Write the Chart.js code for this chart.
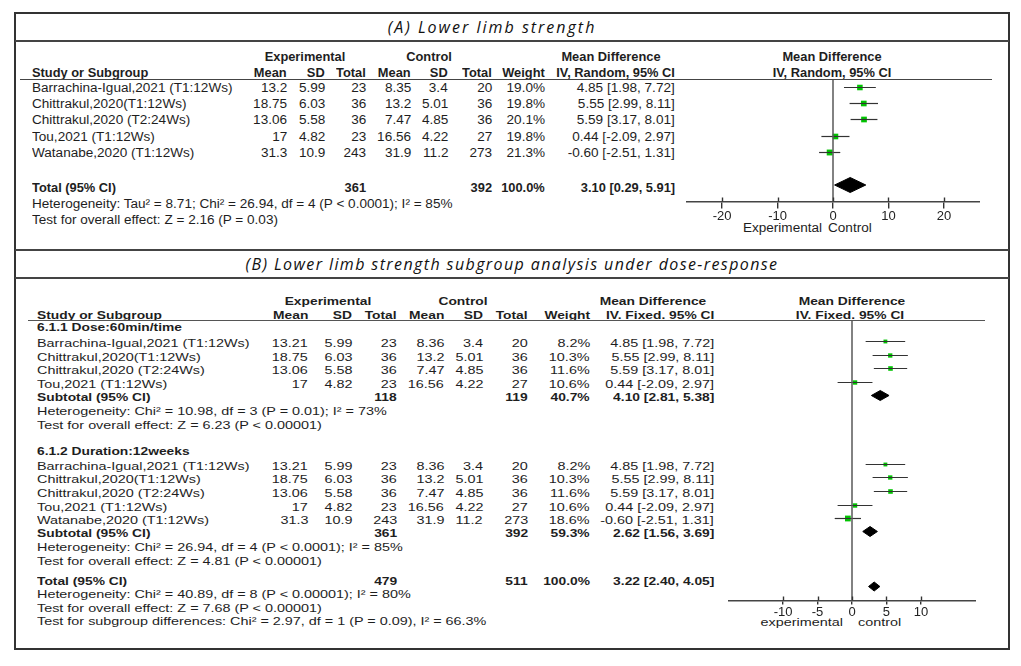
<!DOCTYPE html>
<html><head><meta charset="utf-8">
<script src="https://cdn.jsdelivr.net/npm/chart.js@4.4.1/dist/chart.umd.min.js"></script>
<style>
html,body{margin:0;padding:0;background:#fff;}
#root{position:relative;width:1021px;height:666px;overflow:hidden;background:#fff;font-family:"Liberation Sans",Arial,sans-serif;color:#1e1e1e;}
.t{position:absolute;white-space:nowrap;line-height:1;}
.hl{position:absolute;background:#444;}
</style></head><body><div id="root"></div>
<script>
// ---------- DATA: panel A (random effects) ----------
const studyNames = ["Barrachina-Igual,2021 (T1:12Ws)","Chittrakul,2020(T1:12Ws)","Chittrakul,2020 (T2:24Ws)","Tou,2021 (T1:12Ws)","Watanabe,2020 (T1:12Ws)"];
const expMeanA = [13.2, 18.75, 13.06, 17, 31.3];
const expSdA   = [5.99, 6.03, 5.58, 4.82, 10.9];
const expNA    = [23, 36, 36, 23, 243];
const ctlMeanA = [8.35, 13.2, 7.47, 16.56, 31.9];
const ctlSdA   = [3.4, 5.01, 4.85, 4.22, 11.2];
const ctlNA    = [20, 36, 36, 27, 273];
const weightA  = [19.0, 19.8, 20.1, 19.8, 21.3];
const mdA      = [4.85, 5.55, 5.59, 0.44, -0.60];
const loA      = [1.98, 2.99, 3.17, -2.09, -2.51];
const hiA      = [7.72, 8.11, 8.01, 2.97, 1.31];
const totalA   = [361, 392, 100.0, 3.10, 0.29, 5.91];
const ticksA   = [-20, -10, 0, 10, 20];

// ---------- DATA: panel B (fixed effects, subgroups) ----------
const expMeanB = [13.21, 18.75, 13.06, 17, 31.3];
const expSdB   = [5.99, 6.03, 5.58, 4.82, 10.9];
const expNB    = [23, 36, 36, 23, 243];
const ctlMeanB = [8.36, 13.2, 7.47, 16.56, 31.9];
const ctlSdB   = [3.4, 5.01, 4.85, 4.22, 11.2];
const ctlNB    = [20, 36, 36, 27, 273];
const weightB  = [8.2, 10.3, 11.6, 10.6, 18.6];
const mdB      = [4.85, 5.55, 5.59, 0.44, -0.60];
const loB      = [1.98, 2.99, 3.17, -2.09, -2.51];
const hiB      = [7.72, 8.11, 8.01, 2.97, 1.31];
const group1Idx = [0, 1, 2, 3];
const group2Idx = [0, 1, 2, 3, 4];
const subtotal1 = [118, 119, 40.7, 4.10, 2.81, 5.38];
const subtotal2 = [361, 392, 59.3, 2.62, 1.56, 3.69];
const totalB    = [479, 511, 100.0, 3.22, 2.40, 4.05];
const ticksB    = [-10, -5, 0, 5, 10];

// ---------- helpers ----------
const root = document.getElementById('root');
function T(x, y, s, o = {}) {
  const d = document.createElement('div');
  d.className = 't';
  d.textContent = s;
  const fs = o.fs || 12, sx = o.sx || 1, al = o.al || 'l';
  d.style.fontSize = fs + 'px';
  if (o.b) d.style.fontWeight = 'bold';
  if (o.i) d.style.fontStyle = 'italic';
  if (o.ff) d.style.fontFamily = o.ff;
  if (o.ls) d.style.letterSpacing = o.ls + 'px';
  if (o.c) d.style.color = o.c;
  d.style.top = (y - fs * 0.5) + 'px';
  if (al === 'l') { d.style.left = x + 'px'; d.style.transformOrigin = 'left center'; d.style.transform = `scaleX(${sx})`; }
  else if (al === 'r') { d.style.right = (1021 - x) + 'px'; d.style.transformOrigin = 'right center'; d.style.transform = `scaleX(${sx})`; }
  else { d.style.left = x + 'px'; d.style.transformOrigin = 'center center'; d.style.transform = `translateX(-50%) scaleX(${sx})`; }
  root.appendChild(d);
}
function H(x1, x2, y, w = 1.5, c = '#444') {
  const d = document.createElement('div'); d.className = 'hl';
  d.style.cssText += `left:${x1}px;top:${y - w / 2}px;width:${x2 - x1}px;height:${w}px;background:${c}`;
  root.appendChild(d);
}
function V(x, y1, y2, w = 2, c = '#333') {
  const d = document.createElement('div'); d.className = 'hl';
  d.style.cssText += `left:${x - w / 2}px;top:${y1}px;width:${w}px;height:${y2 - y1}px;background:${c}`;
  root.appendChild(d);
}
const f2 = v => v.toFixed(2);
const wt = v => v.toFixed(1) + '%';
const ci = (m, l, h) => `${f2(m)} [${f2(l)}, ${f2(h)}]`;

function forest(o) {
  const box = document.createElement('div');
  box.style.cssText = `position:absolute;left:${o.left}px;top:${o.top}px;width:${o.w}px;height:${o.plotH + o.axisH}px;`;
  root.appendChild(box);
  const cv = document.createElement('canvas');
  box.appendChild(cv);
  const ds = [];
  ds.push({ type: 'line', data: [{ x: 0, y: 0 }, { x: 0, y: o.plotH }], borderColor: '#5a5a5a', borderWidth: 1.5, pointRadius: 0, clip: false });
  o.rows.forEach(r => {
    ds.push({ type: 'line', data: [{ x: o.lo[r.i], y: r.y }, { x: o.hi[r.i], y: r.y }], borderColor: '#333', borderWidth: 1.2, pointRadius: 0, clip: false });
  });
  ds.push({ type: 'scatter', data: o.rows.map(r => ({ x: o.md[r.i], y: r.y })), pointStyle: 'rect',
    pointRadius: o.rows.map(r => o.k * Math.sqrt(o.wt[r.i])), backgroundColor: '#00c400', borderWidth: 0, clip: false });
  o.diamonds.forEach(d => {
    ds.push({ type: 'line', data: [{ x: d.v[4], y: d.y }, { x: d.v[3], y: d.y - d.h }, { x: d.v[5], y: d.y }, { x: d.v[3], y: d.y + d.h }, { x: d.v[4], y: d.y }],
      borderColor: '#000', backgroundColor: '#000', borderWidth: 1, fill: 'shape', pointRadius: 0, clip: false });
  });
  new Chart(cv, {
    type: 'scatter',
    data: { datasets: ds },
    options: {
      responsive: true, maintainAspectRatio: false, animation: false,
      layout: { padding: 0, autoPadding: false },
      plugins: { legend: { display: false }, tooltip: { enabled: false } },
      scales: {
        x: {
          type: 'linear', min: o.min, max: o.max,
          afterBuildTicks: s => { s.ticks = o.ticks.map(v => ({ value: v })); },
          afterFit: s => { s.height = o.axisH; },
          grid: { display: true, drawOnChartArea: false, drawTicks: true, tickLength: o.tl, color: '#333', lineWidth: 1.4 },
          border: { display: true, color: '#444', width: 1.5 },
          ticks: { font: { family: 'Liberation Sans', size: o.fs }, color: '#222', padding: o.pad, maxRotation: 0, autoSkip: false, callback: v => String(v) }
        },
        y: { type: 'linear', display: false, min: 0, max: o.plotH, reverse: true }
      }
    },
    plugins: [{
      id: 'tickUp',
      afterDraw(c) {
        const s = c.scales.x, ctx = c.ctx, b = c.chartArea.bottom;
        ctx.save(); ctx.strokeStyle = '#333'; ctx.lineWidth = 1.4;
        o.ticks.forEach(v => { const px = Math.round(s.getPixelForValue(v)) + 0.5; ctx.beginPath(); ctx.moveTo(px, b - o.up); ctx.lineTo(px, b); ctx.stroke(); });
        ctx.restore();
      }
    }]
  });
}

// ---------- frame ----------
const LEFT = 15, RIGHT = 1009;
H(LEFT, RIGHT, 13, 2, '#333');
H(LEFT, RIGHT, 649, 2.5, '#333');
V(LEFT, 12, 650, 2, '#333');
V(RIGHT, 12, 650, 2.5, '#333');
H(LEFT, RIGHT, 41, 1.5, '#444');
H(LEFT, RIGHT, 250, 1.5, '#444');
H(LEFT, RIGHT, 278, 1.5, '#444');

// ---------- panel A ----------
const FA = { fs: 12, sx: 1.13 };
const FAB = { fs: 12, sx: 1.07, b: true };
T(492, 27, '(A)  Lower limb strength', { fs: 16, i: true, ff: '"Open Sans"', ls: 2.0, al: 'c', c: '#111' });
T(305, 57, 'Experimental', { ...FAB, al: 'c' });
T(429, 57, 'Control', { ...FAB, al: 'c' });
T(611, 57, 'Mean Difference', { ...FAB, al: 'c' });
T(832, 57, 'Mean Difference', { ...FAB, al: 'c' });
const colA = [287, 325, 366, 411, 448, 492, 545, 675];
T(32, 73, 'Study or Subgroup', FAB);
['Mean', 'SD', 'Total', 'Mean', 'SD', 'Total', 'Weight', 'IV, Random, 95% CI'].forEach((h, j) => T(colA[j], 73, h, { ...FAB, al: 'r' }));
T(832, 73, 'IV, Random, 95% CI', { ...FAB, al: 'c' });
H(20, 992, 79.5, 1.5, '#444');
const rowYA = [87, 103, 119, 136, 152];
studyNames.forEach((n, i) => {
  const y = rowYA[i] + 0.5;
  T(32, y, n, FA);
  [String(expMeanA[i]), String(expSdA[i]), String(expNA[i]), String(ctlMeanA[i]), String(ctlSdA[i]), String(ctlNA[i]), wt(weightA[i]), ci(mdA[i], loA[i], hiA[i])]
    .forEach((s, j) => T(colA[j], y, s, { ...FA, al: 'r' }));
});
const totYA = 187.5;
T(32, totYA, 'Total (95% CI)', FAB);
T(colA[2], totYA, String(totalA[0]), { ...FAB, al: 'r' });
T(colA[5], totYA, String(totalA[1]), { ...FAB, al: 'r' });
T(colA[6], totYA, wt(totalA[2]), { ...FAB, al: 'r' });
T(colA[7], totYA, ci(totalA[3], totalA[4], totalA[5]), { ...FAB, al: 'r' });
T(32, 204, 'Heterogeneity: Tau\u00B2 = 8.71; Chi\u00B2 = 26.94, df = 4 (P < 0.0001); I\u00B2 = 85%', FA);
T(32, 220, 'Test for overall effect: Z = 2.16 (P = 0.03)', FA);
T(822, 228, 'Experimental', { ...FA, al: 'r' });
T(828, 228, 'Control', { ...FA, al: 'l' });

forest({
  left: 686, top: 79.5, w: 294, plotH: 121.5, axisH: 28, min: -26.5, max: 26.5, ticks: ticksA,
  tl: 7, up: 4, pad: 0, fs: 13, k: 0.9,
  lo: loA, hi: hiA, md: mdA, wt: weightA,
  rows: rowYA.map((y, i) => ({ i, y: y - 79.5 })),
  diamonds: [{ v: totalA, y: 184.5 - 79.5, h: 7.5 }]
});

// ---------- panel B ----------
const FB = { fs: 11.5, sx: 1.25 };
const FBB = { fs: 11.5, sx: 1.2, b: true };
T(512, 264, '(B)  Lower limb strength subgroup analysis under dose-response', { fs: 16, i: true, ff: '"Open Sans"', ls: 1.4, al: 'c', c: '#111' });
T(328, 302, 'Experimental', { ...FBB, al: 'c' });
T(463, 302, 'Control', { ...FBB, al: 'c' });
T(653, 302, 'Mean Difference', { ...FBB, al: 'c' });
T(852, 302, 'Mean Difference', { ...FBB, al: 'c' });
const colB = [308, 352, 397, 444, 483, 528, 590, 714];
T(37, 316, 'Study or Subgroup', FBB);
['Mean', 'SD', 'Total', 'Mean', 'SD', 'Total', 'Weight', 'IV. Fixed. 95% CI'].forEach((h, j) => T(colB[j], 316, h, { ...FBB, al: 'r' }));
T(850, 316, 'IV. Fixed. 95% CI', { ...FBB, al: 'c' });
H(28, 985, 320.5, 1.5, '#555');

function studyRowB(i, y) {
  T(37, y, studyNames[i], FB);
  [String(expMeanB[i]), String(expSdB[i]), String(expNB[i]), String(ctlMeanB[i]), String(ctlSdB[i]), String(ctlNB[i]), wt(weightB[i]), ci(mdB[i], loB[i], hiB[i])]
    .forEach((s, j) => T(colB[j], y, s, { ...FB, al: 'r' }));
}
function sumRowB(label, v, y) {
  T(37, y, label, FBB);
  T(colB[2], y, String(v[0]), { ...FBB, al: 'r' });
  T(colB[5], y, String(v[1]), { ...FBB, al: 'r' });
  T(colB[6], y, wt(v[2]), { ...FBB, al: 'r' });
  T(colB[7], y, ci(v[3], v[4], v[5]), { ...FBB, al: 'r' });
}
const rowYB1 = [341, 355, 368, 382];
const rowYB2 = [464, 477, 491, 505, 518];
const dTXT = 2.5;
T(37, 328, '6.1.1 Dose:60min/time', FBB);
group1Idx.forEach((i, k) => studyRowB(i, rowYB1[k] + dTXT));
sumRowB('Subtotal (95% CI)', subtotal1, 397.5);
T(37, 412, 'Heterogeneity: Chi\u00B2 = 10.98, df = 3 (P = 0.01); I\u00B2 = 73%', FB);
T(37, 426, 'Test for overall effect: Z = 6.23 (P < 0.00001)', FB);
T(37, 452, '6.1.2 Duration:12weeks', FBB);
group2Idx.forEach((i, k) => studyRowB(i, rowYB2[k] + dTXT));
sumRowB('Subtotal (95% CI)', subtotal2, 534);
T(37, 548, 'Heterogeneity: Chi\u00B2 = 26.94, df = 4 (P < 0.0001); I\u00B2 = 85%', FB);
T(37, 562, 'Test for overall effect: Z = 4.81 (P < 0.00001)', FB);
sumRowB('Total (95% CI)', totalB, 582);
T(37, 595, 'Heterogeneity: Chi\u00B2 = 40.89, df = 8 (P < 0.00001); I\u00B2 = 80%', FB);
T(37, 608.5, 'Test for overall effect: Z = 7.68 (P < 0.00001)', FB);
T(37, 622, 'Test for subgroup differences: Chi\u00B2 = 2.97, df = 1 (P = 0.09), I\u00B2 = 66.3%', FB);
T(843, 623, 'experimental', { ...FB, al: 'r' });
T(858, 623, 'control', { ...FB, al: 'l' });

const TOPB = 320.5;
forest({
  left: 728, top: TOPB, w: 248, plotH: 279.5, axisH: 22, min: -18, max: 18, ticks: ticksB,
  tl: 4, up: 4, pad: 0, fs: 13, k: 0.95,
  lo: loB, hi: hiB, md: mdB, wt: weightB,
  rows: rowYB1.map((y, k) => ({ i: group1Idx[k], y: y - TOPB })).concat(rowYB2.map((y, k) => ({ i: group2Idx[k], y: y - TOPB }))),
  diamonds: [
    { v: subtotal1, y: 395 - TOPB, h: 5 },
    { v: subtotal2, y: 531 - TOPB, h: 5 },
    { v: totalB, y: 586 - TOPB, h: 4.5 }
  ]
});
</script></body></html>
